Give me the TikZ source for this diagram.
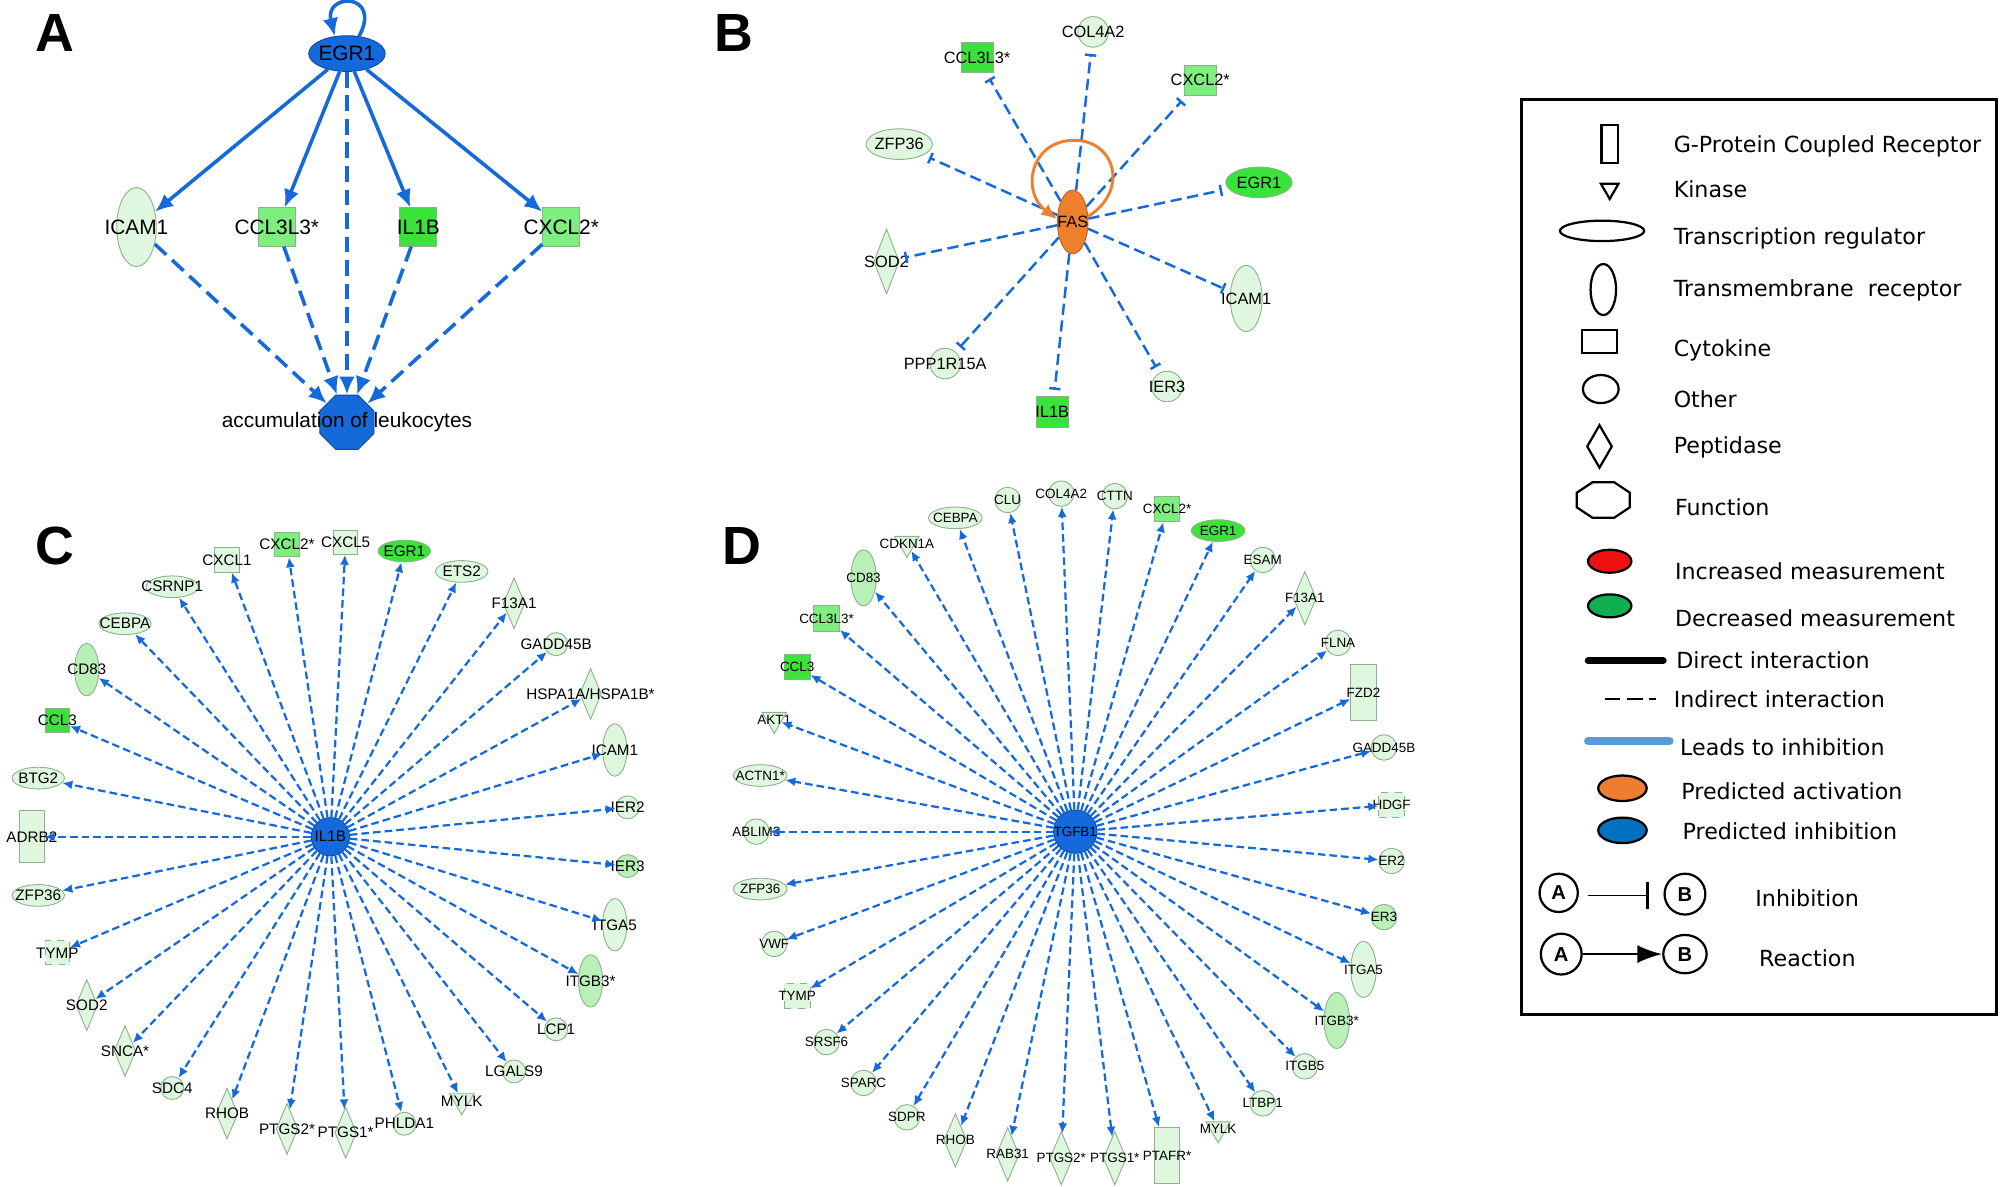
\documentclass[tikz,border=0pt]{standalone}
\usepackage{fontspec}
\setmainfont{Liberation Sans}
\newfontfamily\legfont{DejaVu Sans}
\usetikzlibrary{shapes.geometric,arrows.meta}

\definecolor{gI}{HTML}{DFF7DF}
\definecolor{gII}{HTML}{B8F0B8}
\definecolor{gIII}{HTML}{7EEE7E}
\definecolor{gIV}{HTML}{3CE23C}
\definecolor{molline}{HTML}{8DB08D}
\definecolor{ipablue}{HTML}{1469DB}
\definecolor{ipaorange}{HTML}{EE7F2D}
\definecolor{legblue}{HTML}{5B9BD5}
\definecolor{legred}{HTML}{EE1111}
\definecolor{leggreen}{HTML}{10B050}
\definecolor{legorange}{HTML}{ED7D31}
\definecolor{legdblue}{HTML}{0070C0}

\tikzset{
  sz/.style 2 args={minimum width=#1*0.02cm, minimum height=#2*0.02cm},
  mol/.style={draw=molline, line width=0.4pt, fill=gI, inner sep=0pt},
  t/.style={label={[gfont]center:#1}},
  gfont/.style={font=\fontsize{6.8}{7}\selectfont},
  cyto/.style={mol, rectangle, sz={19}{19}},
  gpcr/.style={mol, rectangle, sz={19}{41}},
  unk/.style={mol, rectangle, dashed, sz={19}{19}},
  treg/.style={mol, ellipse, sz={41}{17}},
  tmr/.style={mol, ellipse, sz={19}{41}},
  oth/.style={mol, circle, minimum size=18*0.02cm},
  pept/.style={mol, diamond, sz={17}{40}},
  kin/.style={mol, regular polygon, regular polygon sides=3, shape border rotate=180, minimum size=22*0.02cm},
  hub/.style={circle, fill=ipablue, draw=ipablue!70!black, minimum size=30*0.02cm, inner sep=0pt},
  spoke/.style={ipablue, line width=1pt, dash pattern=on 3.4pt off 1.8pt, -{Latex[length=4.5pt,width=4pt]}},
  direct/.style={ipablue, line width=1.6pt, -{Latex[length=8pt,width=7pt]}},
  indirect/.style={direct, dash pattern=on 7pt off 3.5pt},
  inhib/.style={ipablue, line width=1.1pt, dash pattern=on 5pt off 2.5pt, -{Bar[width=5pt]}, shorten >=0.1cm},
  plabel/.style={font=\fontsize{24}{24}\selectfont\bfseries},
  legtext/.style={anchor=west, font=\legfont\fontsize{9.9}{10}\selectfont},
  legsym/.style={draw=black, line width=1pt, inner sep=0pt},
}

\begin{document}
\begin{tikzpicture}[x=0.02cm, y=-0.02cm]
  \useasboundingbox (0,0) rectangle (1568,930);

  %==========================
  % Panel (A)
  %==========================
  \begin{scope}[gfont/.style={font=\fontsize{9.3}{10}\selectfont}]
    \node[plabel] (a-lbl) at (43,26) {A};
    \node[mol, ellipse, fill=ipablue, draw=ipablue!70!black, sz={60}{28}, t=EGR1] (a-egr1) at (272,42) {};
    \node[tmr, sz={31}{62}, t=ICAM1] (a-icam1) at (107,178) {};
    \node[cyto, fill=gIII, sz={29}{30}, t={CCL3L3*}] (a-ccl) at (217,178) {};
    \node[cyto, fill=gIV, sz={29}{30}, t=IL1B] (a-il1b) at (328,178) {};
    \node[cyto, fill=gIII, sz={29}{30}, t={CXCL2*}] (a-cxcl2) at (440,178) {};
    \node[mol, regular polygon, regular polygon sides=8, fill=ipablue, draw=ipablue!70!black,
          minimum size=46*0.02cm, t={accumulation of leukocytes}] (a-acc) at (272,331) {};
    % edges
    \draw[direct] (a-egr1.55) .. controls (300,-6) and (254,-6) .. (a-egr1.125);
    \foreach \n in {icam1,ccl,il1b,cxcl2}
      \draw[direct] (a-egr1) -- (a-\n);
    \foreach \n in {egr1,icam1,ccl,il1b,cxcl2}
      \draw[indirect] (a-\n) -- (a-acc);
  \end{scope}

  %==========================
  % Panel (B)
  %==========================
  \begin{scope}[gfont/.style={font=\fontsize{7.3}{8}\selectfont}]
    \node[plabel] (b-lbl) at (575,26) {B};
    \node[mol, ellipse, fill=ipaorange, draw=ipaorange!80!black, sz={24}{50}, t=FAS] (b-fas) at (841,174) {};
    \node[cyto, fill=gIV, sz={25}{24}, t={CCL3L3*}] (b-ccl) at (766,45) {};
    \node[oth, minimum size=24*0.02cm, t=COL4A2] (b-col) at (857,25) {};
    \node[cyto, fill=gIII, sz={25}{24}, t={CXCL2*}] (b-cxcl) at (941,63) {};
    \node[treg, sz={52}{24}, t=ZFP36] (b-zfp) at (705,113) {};
    \node[treg, fill=gIV, sz={52}{24}, t=EGR1] (b-egr) at (987,143) {};
    \node[pept, sz={20}{51}, t=SOD2] (b-sod) at (695,205) {};
    \node[tmr, sz={25}{52}, t=ICAM1] (b-icam) at (977,234) {};
    \node[oth, minimum size=24*0.02cm, t=PPP1R15A] (b-ppp) at (741,285) {};
    \node[cyto, fill=gIV, sz={25}{24}, t=IL1B] (b-il1b) at (825,323) {};
    \node[oth, minimum size=24*0.02cm, t=IER3] (b-ier3) at (915,303) {};
    \foreach \n in {ccl,col,cxcl,zfp,egr,sod,icam,ppp,il1b,ier3}
      \draw[inhib] (b-fas) -- (b-\n);
    \draw[ipaorange, line width=1.3pt, -{Latex[length=7pt,width=6pt]}]
      (b-fas.20) .. controls (885,150) and (875,110) .. (842,110)
      .. controls (808,110) and (800,150) .. (b-fas.170);
  \end{scope}

  %==========================
  % Panel (C)
  %==========================
  \node[plabel] (c-lbl) at (43,428) {C};
  \node[hub, t=IL1B] (c-hub) at (259,656) {};
  \node[cyto, t=CXCL1] (c-cxcl1) at (178,439) {};
  \node[cyto, fill=gIII, t={CXCL2*}] (c-cxcl2) at (225,427) {};
  \node[cyto, t=CXCL5] (c-cxcl5) at (271,425) {};
  \node[treg, fill=gIV, t=EGR1] (c-egr1) at (317,432) {};
  \node[treg, t=ETS2] (c-ets2) at (362,448) {};
  \node[pept, t=F13A1] (c-f13a1) at (403,473) {};
  \node[oth, t=GADD45B] (c-gadd) at (436,505) {};
  \node[pept, t={HSPA1A/HSPA1B*}] (c-hspa) at (463,544) {};
  \node[tmr, t=ICAM1] (c-icam1) at (482,588) {};
  \node[oth, t=IER2] (c-ier2) at (492,633) {};
  \node[oth, fill=gII, t=IER3] (c-ier3) at (492,679) {};
  \node[tmr, t=ITGA5] (c-itga5) at (482,725) {};
  \node[tmr, fill=gII, t={ITGB3*}] (c-itgb3) at (463,769) {};
  \node[oth, t=LCP1] (c-lcp1) at (436,807) {};
  \node[oth, t=LGALS9] (c-lgals9) at (403,840) {};
  \node[kin, t=MYLK] (c-mylk) at (362,863) {};
  \node[oth, t=PHLDA1] (c-phlda1) at (317,881) {};
  \node[pept, t={PTGS1*}] (c-ptgs1) at (271,888) {};
  \node[pept, t={PTGS2*}] (c-ptgs2) at (225,885) {};
  \node[pept, t=RHOB] (c-rhob) at (178,873) {};
  \node[oth, t=SDC4] (c-sdc4) at (135,853) {};
  \node[pept, t={SNCA*}] (c-snca) at (98,824) {};
  \node[pept, t=SOD2] (c-sod2) at (68,788) {};
  \node[unk, t=TYMP] (c-tymp) at (45,747) {};
  \node[treg, t=ZFP36] (c-zfp36) at (30,702) {};
  \node[gpcr, t=ADRB2] (c-adrb2) at (25,656) {};
  \node[treg, t=BTG2] (c-btg2) at (30,610) {};
  \node[cyto, fill=gIV, t=CCL3] (c-ccl3) at (45,565) {};
  \node[tmr, fill=gII, t=CD83] (c-cd83) at (68,525) {};
  \node[treg, t=CEBPA] (c-cebpa) at (98,489) {};
  \node[treg, t=CSRNP1] (c-csrnp1) at (135,460) {};
  \foreach \n in {cxcl1,cxcl2,cxcl5,egr1,ets2,f13a1,gadd,hspa,icam1,ier2,ier3,itga5,itgb3,
                  lcp1,lgals9,mylk,phlda1,ptgs1,ptgs2,rhob,sdc4,snca,sod2,tymp,zfp36,adrb2,
                  btg2,ccl3,cd83,cebpa,csrnp1}
    \draw[spoke] (c-hub) -- (c-\n);

  %==========================
  % Panel (D)
  %==========================
  \begin{scope}[gfont/.style={font=\fontsize{6}{7}\selectfont},
                cyto/.append style={sz={20}{20}}, unk/.append style={sz={20}{20}},
                gpcr/.append style={sz={20}{44}}, tmr/.append style={sz={20}{44}},
                treg/.append style={sz={42}{17}}, oth/.append style={minimum size=20*0.02cm},
                pept/.append style={sz={18}{42}}]
    \node[plabel] (d-lbl) at (582,428) {D};
    \node[hub, minimum size=34*0.02cm, t=TGFB1] (d-hub) at (843,652) {};
    \node[oth, t=CLU] (d-clu) at (790,392) {};
    \node[oth, t=COL4A2] (d-col4a2) at (832,387) {};
    \node[oth, t=CTTN] (d-cttn) at (874,389) {};
    \node[cyto, fill=gIII, t={CXCL2*}] (d-cxcl2) at (915,399) {};
    \node[treg, fill=gIV, t=EGR1] (d-egr1) at (955,416) {};
    \node[oth, t=ESAM] (d-esam) at (990,439) {};
    \node[pept, t=F13A1] (d-f13a1) at (1023,469) {};
    \node[oth, t=FLNA] (d-flna) at (1049,504) {};
    \node[gpcr, t=FZD2] (d-fzd2) at (1069,543) {};
    \node[oth, t=GADD45B] (d-gadd) at (1085,586) {};
    \node[unk, t=HDGF] (d-hdgf) at (1091,631) {};
    \node[oth, t=ER2] (d-er2) at (1091,675) {};
    \node[oth, fill=gII, t=ER3] (d-er3) at (1085,719) {};
    \node[tmr, t=ITGA5] (d-itga5) at (1069,760) {};
    \node[tmr, fill=gII, t={ITGB3*}] (d-itgb3) at (1048,800) {};
    \node[oth, t=ITGB5] (d-itgb5) at (1023,836) {};
    \node[oth, t=LTBP1] (d-ltbp1) at (990,865) {};
    \node[kin, t=MYLK] (d-mylk) at (955,885) {};
    \node[gpcr, t={PTAFR*}] (d-ptafr) at (915,906) {};
    \node[pept, t={PTGS1*}] (d-ptgs1) at (874,908) {};
    \node[pept, t={PTGS2*}] (d-ptgs2) at (832,908) {};
    \node[pept, t=RAB31] (d-rab31) at (790,905) {};
    \node[pept, t=RHOB] (d-rhob) at (749,894) {};
    \node[oth, t=SDPR] (d-sdpr) at (711,876) {};
    \node[oth, t=SPARC] (d-sparc) at (677,849) {};
    \node[oth, t=SRSF6] (d-srsf6) at (648,817) {};
    \node[unk, t=TYMP] (d-tymp) at (625,781) {};
    \node[oth, t=VWF] (d-vwf) at (607,740) {};
    \node[treg, t=ZFP36] (d-zfp36) at (596,697) {};
    \node[oth, t=ABLIM3] (d-ablim3) at (593,652) {};
    \node[treg, t={ACTN1*}] (d-actn1) at (596,608) {};
    \node[kin, t=AKT1] (d-akt1) at (607,564) {};
    \node[cyto, fill=gIV, t=CCL3] (d-ccl3) at (625,523) {};
    \node[cyto, fill=gIII, t={CCL3L3*}] (d-ccl3l3) at (648,485) {};
    \node[tmr, fill=gII, t=CD83] (d-cd83) at (677,453) {};
    \node[kin, t=CDKN1A] (d-cdkn1a) at (711,426) {};
    \node[treg, t=CEBPA] (d-cebpa) at (749,406) {};
    \foreach \n in {clu,col4a2,cttn,cxcl2,egr1,esam,f13a1,flna,fzd2,gadd,hdgf,er2,er3,itga5,
                    itgb3,itgb5,ltbp1,mylk,ptafr,ptgs1,ptgs2,rab31,rhob,sdpr,sparc,srsf6,
                    tymp,vwf,zfp36,ablim3,actn1,akt1,ccl3,ccl3l3,cd83,cdkn1a,cebpa}
      \draw[spoke] (d-hub) -- (d-\n);
  \end{scope}

  %==========================
  % Legend
  %==========================
  \draw[line width=1.3pt] (1193,78) rectangle (1565,795);
  \node[legsym, rectangle, sz={13}{30}] (l-gpcr) at (1262,113) {};
  \node[legsym, regular polygon, regular polygon sides=3, shape border rotate=180, minimum size=16*0.02cm] (l-kin) at (1262,148) {};
  \node[legsym, ellipse, sz={66}{16}] (l-treg) at (1256,181) {};
  \node[legsym, ellipse, sz={20}{40}] (l-tmr) at (1257,227) {};
  \node[legsym, rectangle, sz={28}{18}] (l-cyto) at (1254,268) {};
  \node[legsym, ellipse, sz={28}{22}] (l-oth) at (1255,305) {};
  \node[legsym, diamond, sz={20}{34}] (l-pept) at (1254,350) {};
  \node[legsym, regular polygon, regular polygon sides=8, xscale=1.5, minimum size=30*0.02cm] (l-fun) at (1257,392) {};
  \node[legsym, ellipse, fill=legred, sz={34}{18}] (l-inc) at (1262,440) {};
  \node[legsym, ellipse, fill=leggreen, sz={34}{18}] (l-dec) at (1262,475) {};
  \draw[line width=3pt, line cap=round] (1245,518) -- (1304,518);
  \draw[line width=1pt, dash pattern=on 7pt off 3pt] (1258,548) -- (1298,548);
  \draw[legblue, line width=3.5pt, line cap=round] (1245,581) -- (1309,581);
  \node[legsym, ellipse, fill=legorange, sz={38}{20}] (l-act) at (1272,618) {};
  \node[legsym, ellipse, fill=legdblue, sz={38}{20}] (l-inh) at (1272,651) {};
  \node[legsym, circle, minimum size=30*0.02cm, font=\bfseries\small] (l-a1) at (1222,700) {A};
  \node[legsym, circle, minimum size=32*0.02cm, font=\bfseries\small] (l-b1) at (1321,701) {B};
  \node[legsym, circle, minimum size=32*0.02cm, font=\bfseries\small] (l-a2) at (1224,748) {A};
  \node[legsym, ellipse, sz={34}{30}, font=\bfseries\small] (l-b2) at (1321,748) {B};
  \draw[line width=0.8pt, -{Bar[width=12pt,line width=1.4pt]}] (1245,702) -- (1293,702);
  \draw[line width=0.8pt, -{Latex[length=11pt,width=8pt]}] (l-a2) -- (1303,748);

  \node[legtext] at (1306,115) {G-Protein Coupled Receptor};
  \node[legtext] at (1306,148) {Kinase};
  \node[legtext] at (1306,187) {Transcription regulator};
  \node[legtext] at (1306,228) {Transmembrane~ receptor};
  \node[legtext] at (1306,275) {Cytokine};
  \node[legtext] at (1306,313) {Other};
  \node[legtext] at (1306,351) {Peptidase};
  \node[legtext] at (1307,398) {Function};
  \node[legtext] at (1307,448) {Increased measurement};
  \node[legtext] at (1307,485) {Decreased measurement};
  \node[legtext] at (1308,518) {Direct interaction};
  \node[legtext] at (1306,548) {Indirect interaction};
  \node[legtext] at (1311,586) {Leads to inhibition};
  \node[legtext] at (1312,620) {Predicted activation};
  \node[legtext] at (1313,652) {Predicted inhibition};
  \node[legtext] at (1370,704) {Inhibition};
  \node[legtext] at (1373,751) {Reaction};
\end{tikzpicture}
\end{document}
